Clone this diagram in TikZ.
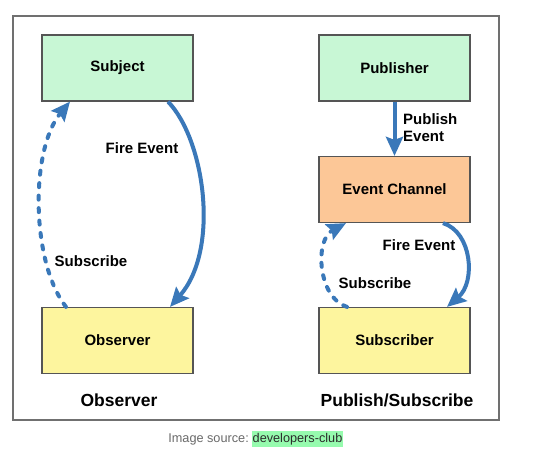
\documentclass[tikz,border=0pt]{standalone}
\usepackage{fontspec}
\setmainfont{Liberation Sans}
\usetikzlibrary{arrows.meta,calc}

\definecolor{panelgray}{HTML}{707070}
\definecolor{edgegray}{HTML}{555555}
\definecolor{mint}{HTML}{C8F7D5}
\definecolor{peach}{HTML}{FCC797}
\definecolor{lemon}{HTML}{FDF59E}
\definecolor{flowblue}{HTML}{3A78B9}
\definecolor{capgray}{HTML}{6A6A6A}
\definecolor{captext}{HTML}{2A2A2A}
\definecolor{hilite}{HTML}{96FBAE}

\begin{document}
\begin{tikzpicture}[x=1pt,y=-1pt,
  panel/.style={draw=panelgray,line width=1.5pt},
  box/.style={draw=edgegray,line width=1.2pt,minimum width=151pt,minimum height=66pt,
    inner sep=0pt,font=\fontsize{15}{18}\selectfont\bfseries},
  lbl/.style={inner sep=0pt,font=\fontsize{15}{18}\selectfont\bfseries},
  title/.style={inner sep=0pt,font=\fontsize{17.5}{21}\selectfont\bfseries},
  flow/.style={draw=flowblue,line width=4pt,
    -{Stealth[length=19pt,width=17pt,inset=3pt,fill=flowblue,line cap=butt]}},
  subflow/.style={flow,line cap=round,dash pattern=on 4pt off 8.5pt},
]
\useasboundingbox (0,0) rectangle (549,448);
\fill[white] (0,0) rectangle (549,448);

% outer panel
\draw[panel] (13,16) rectangle (499,420);

% Observer pattern
\node[box,fill=mint]  (subject)  at (117.5,68)  {Subject};
\node[box,fill=lemon] (observer) at (117.5,340.5) {Observer};

% Publish/Subscribe pattern
\node[box,fill=mint]  (publisher)  at (394.5,68)    {Publisher};
\node[box,fill=peach] (channel)    at (394.5,189.5) {Event Channel};
\node[box,fill=lemon] (subscriber) at (394.5,340.5) {Subscriber};

% connector end points on the box borders
\coordinate (fireA)  at ($(subject.south)+(50.5,0)$);
\coordinate (fireB)  at ($(observer.north)+(52.5,0)$);
\coordinate (subA)   at ($(observer.north)+(-51.5,0)$);
\coordinate (subB)   at ($(subject.south)+(-47.5,0)$);
\coordinate (fireC)  at ($(channel.south)+(48.5,0)$);
\coordinate (fireD)  at ($(subscriber.north)+(52.5,0)$);
\coordinate (subC)   at ($(subscriber.north)+(-47.5,0)$);
\coordinate (subD)   at ($(channel.south)+(-48.5,0)$);

% left side connectors
\draw[flow] (fireA) .. controls (205,140) and (220,250) .. (fireB);
\draw[subflow] (subA) .. controls (31,262) and (30,150) .. (subB);

% right side connectors
\draw[flow] (publisher.south) -- (channel.north);
\draw[flow] (fireC) .. controls (472,232) and (476,282) .. (fireD);
\draw[subflow] (subC) .. controls (318,298) and (314,240) .. (subD);

% connector labels
\node[lbl] (lfire) at (142,148) {Fire Event};
\node[lbl] (lsub)  at (91,261)  {Subscribe};
\node[lbl,anchor=west,align=left] (pub) at (403,127.5) {Publish\\[-1.5pt]Event};
\node[lbl] (rfire) at (419,245) {Fire Event};
\node[lbl] (rsub)  at (375,283) {Subscribe};

% pattern titles
\node[title] (t1) at (119,400) {Observer};
\node[title] (t2) at (397,400) {Publish/Subscribe};

% image credit
\node[anchor=base east,inner sep=0pt,text=capgray,font=\fontsize{12.7}{15}\selectfont]
  (credit) at (249,442) {Image source:};
\node[anchor=base west,inner xsep=0.5pt,inner ysep=2pt,fill=hilite,text=captext,
  font=\fontsize{12.7}{15}\selectfont] (src) at (252,442) {developers-club};
\end{tikzpicture}
\end{document}
